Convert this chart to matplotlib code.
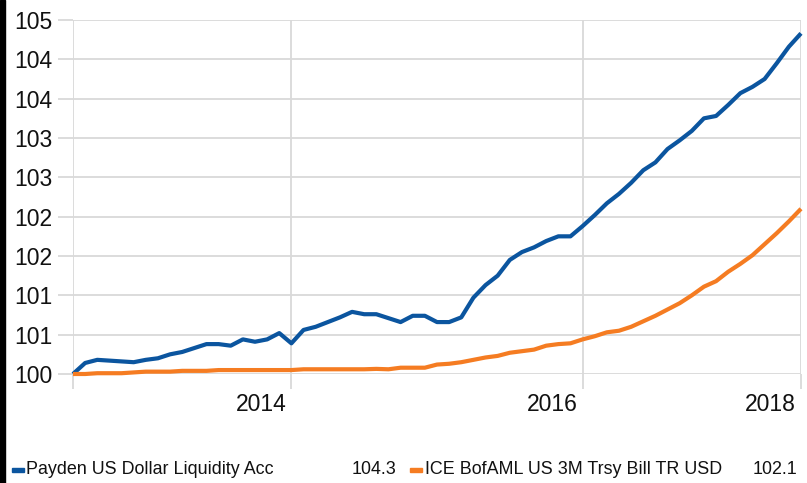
import numpy as np
import matplotlib.pyplot as plt
import matplotlib.transforms as mtransforms
from matplotlib.patches import Rectangle

# monthly index values
payden = [100.00, 100.14, 100.18, 100.17, 100.16, 100.15, 100.18, 100.20, 100.25, 100.28,
          100.33, 100.38, 100.38, 100.36, 100.44, 100.41, 100.44, 100.52, 100.39, 100.56,
          100.60, 100.66, 100.72, 100.79, 100.76, 100.76, 100.71, 100.66, 100.74, 100.74,
          100.66, 100.66, 100.72, 100.97, 101.13, 101.25, 101.45, 101.55, 101.61, 101.69,
          101.75, 101.75, 101.88, 102.02, 102.17, 102.29, 102.43, 102.59, 102.69, 102.86,
          102.97, 103.09, 103.25, 103.28, 103.42, 103.57, 103.65, 103.75, 103.95, 104.16,
          104.33]
tbill = [100.00, 100.00, 100.01, 100.01, 100.01, 100.02, 100.03, 100.03, 100.03, 100.04,
         100.04, 100.04, 100.05, 100.05, 100.05, 100.05, 100.05, 100.05, 100.05, 100.06,
         100.06, 100.06, 100.06, 100.06, 100.06, 100.065, 100.06, 100.08, 100.08, 100.08,
         100.12, 100.13, 100.15, 100.18, 100.21, 100.23, 100.27, 100.29, 100.31, 100.36,
         100.38, 100.39, 100.44, 100.48, 100.53, 100.55, 100.60, 100.67, 100.74, 100.82,
         100.90, 101.00, 101.11, 101.18, 101.30, 101.40, 101.51, 101.65, 101.79, 101.94,
         102.10]
names = ['Payden US Dollar Liquidity Acc', 'ICE BofAML US 3M Trsy Bill TR USD']
last_vals = ['104.3', '102.1']
year_pos = [0, 18, 42, 60]
year_labels = ['', '2014', '2016', '2018']
y_ticks = [100, 100.5, 101, 101.5, 102, 102.5, 103, 103.5, 104, 104.5]
y_labels = ['100', '101', '101', '102', '102', '103', '103', '104', '104', '105']

blue = '#0b559f'
orange = '#f57c22'
grid = '#d9d9d9'

plt.rcParams['font.family'] = ['Liberation Sans', 'DejaVu Sans']

fig = plt.figure(figsize=(8.07, 4.83), dpi=100)
ax = fig.add_axes([73/807, 1 - 374/483, 728/807, 354/483])

x = np.arange(len(payden))
ax.plot(x, payden, color=blue, lw=3, clip_on=False, zorder=3, solid_capstyle='butt')
ax.plot(x, tbill, color=orange, lw=3, clip_on=False, zorder=3, solid_capstyle='butt')

ax.set_xlim(0, 60)
ax.set_ylim(100, 104.5)
ax.set_yticks(y_ticks)
ax.set_yticklabels(y_labels)
ax.set_xticks(year_pos)
ax.set_xticklabels(year_labels)
ax.grid(True, color=grid, lw=1.3)
ax.set_axisbelow(True)
for s in ax.spines.values():
    s.set_visible(False)
ax.tick_params(axis='both', colors=grid, width=1.3, length=10.5, labelsize=16.5,
               labelcolor='#111111')
ax.tick_params(axis='y', pad=4.3)
ax.tick_params(axis='x', pad=3)
off = mtransforms.ScaledTranslation(-5/100, 0, fig.dpi_scale_trans)
for lab in ax.get_xticklabels():
    lab.set_horizontalalignment('right')
    lab.set_transform(lab.get_transform() + off)

# left black bar
fig.patches.append(Rectangle((0, 0), 4.5/807, 1, transform=fig.transFigure,
                             color='black', zorder=5))

# bottom legend
ly = 1 - 470/483
fs = 12.9
fig.patches.append(Rectangle((12/807, ly - 2/483), 12/807, 4/483,
                             transform=fig.transFigure, color=blue))
fig.text(26/807, ly, names[0], fontsize=fs, va='center', ha='left', color='#111111')
fig.text(396/807, ly, last_vals[0], fontsize=fs, va='center', ha='right', color='#111111')
fig.patches.append(Rectangle((410/807, ly - 2/483), 12/807, 4/483,
                             transform=fig.transFigure, color=orange))
fig.text(425/807, ly, names[1], fontsize=fs, va='center', ha='left', color='#111111')
fig.text(797/807, ly, last_vals[1], fontsize=fs, va='center', ha='right', color='#111111')

fig.savefig('out.png', dpi=100)
